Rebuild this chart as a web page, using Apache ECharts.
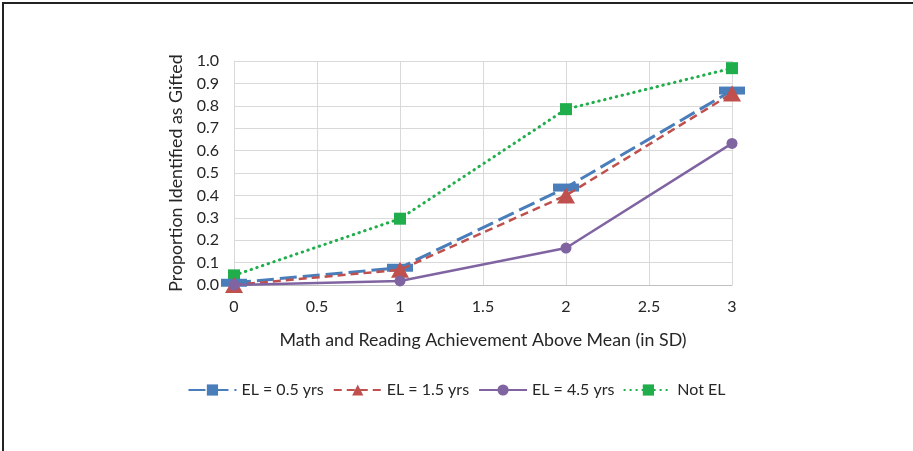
<!DOCTYPE html>
<html><head><meta charset="utf-8">
<script src="https://cdn.jsdelivr.net/npm/echarts@6/dist/echarts.min.js"></script>
<style>
html,body{margin:0;padding:0;background:#fff;}
#frame{position:absolute;left:2px;top:2px;width:920px;height:447px;border-left:2px solid #222;border-top:2px solid #222;border-bottom:1px solid #999;}
#c{position:absolute;left:0;top:0;width:913px;height:451px;}
</style></head>
<body>
<div id="frame"></div>
<div id="c"></div>
<script>
const xValues = [0, 1, 2, 3];
const xTickLabels = ['0', '0.5', '1', '1.5', '2', '2.5', '3'];
const yTickLabels = ['0.0','0.1','0.2','0.3','0.4','0.5','0.6','0.7','0.8','0.9','1.0'];
const seriesNames = ['EL = 0.5 yrs', 'EL = 1.5 yrs', 'EL = 4.5 yrs', 'Not EL'];
const el05 = [0.01, 0.077, 0.435, 0.868];
const el15 = [0.0, 0.068, 0.40, 0.855];
const el45 = [0.0, 0.018, 0.165, 0.632];
const notEL = [0.043, 0.296, 0.785, 0.968];

const FONT = 'Lato';
const chart = echarts.init(document.getElementById('c'));
function pts(v){ return xValues.map((x,i)=>[x, v[i]]); }
chart.setOption({
  animation:false,
  textStyle:{fontFamily:FONT},
  grid:{left:234, right:181, top:61, bottom:166},
  xAxis:{type:'value', min:0, max:3, interval:0.5,
    name:'Math and Reading Achievement Above Mean (in SD)', nameLocation:'middle', nameGap:46,
    nameTextStyle:{fontSize:17.8, color:'#262626', fontFamily:FONT},
    axisLine:{show:true, lineStyle:{color:'#bfbfbf', width:1}},
    axisTick:{show:false},
    axisLabel:{fontSize:16, color:'#262626', margin:14, formatter:(v)=>xTickLabels[Math.round(v*2)]},
    splitLine:{show:true, lineStyle:{color:'#d9d9d9', width:1}}
  },
  yAxis:{type:'value', min:0, max:1, interval:0.1,
    name:'Proportion Identified as Gifted', nameLocation:'middle', nameGap:39,
    nameTextStyle:{fontSize:17.8, color:'#262626', fontFamily:FONT},
    axisLine:{show:true, lineStyle:{color:'#d9d9d9'}},
    axisTick:{show:false},
    axisLabel:{fontSize:16, color:'#262626', margin:15, formatter:(v)=>yTickLabels[Math.round(v*10)]},
    splitLine:{show:true, lineStyle:{color:'#d9d9d9', width:1}}
  },
  legend:{bottom:48, left:'center', itemWidth:48, itemHeight:14, itemGap:9,
    textStyle:{fontSize:16, color:'#262626', fontFamily:FONT},
    data:seriesNames},
  series:[
    {name:seriesNames[0], type:'line', data:pts(el05), symbol:'rect', symbolSize:[26,8],
      itemStyle:{color:'#4a7ebb'}, lineStyle:{color:'#4a7ebb', width:3, type:[17,6]}, z:3},
    {name:seriesNames[1], type:'line', data:pts(el15), symbol:'triangle', symbolSize:[18,16],
      itemStyle:{color:'#c0504d'}, lineStyle:{color:'#c0504d', width:2.5, type:[8,5]}, z:4},
    {name:seriesNames[2], type:'line', data:pts(el45), symbol:'circle', symbolSize:11,
      itemStyle:{color:'#8064a2'}, lineStyle:{color:'#8064a2', width:2.5, type:'solid'}, z:5},
    {name:seriesNames[3], type:'line', data:pts(notEL), symbol:'rect', symbolSize:12,
      itemStyle:{color:'#1fae4b'}, lineStyle:{color:'#1fae4b', width:3, type:[0.5,5.5], cap:'round'}, z:2}
  ]
});
</script>
</body></html>
